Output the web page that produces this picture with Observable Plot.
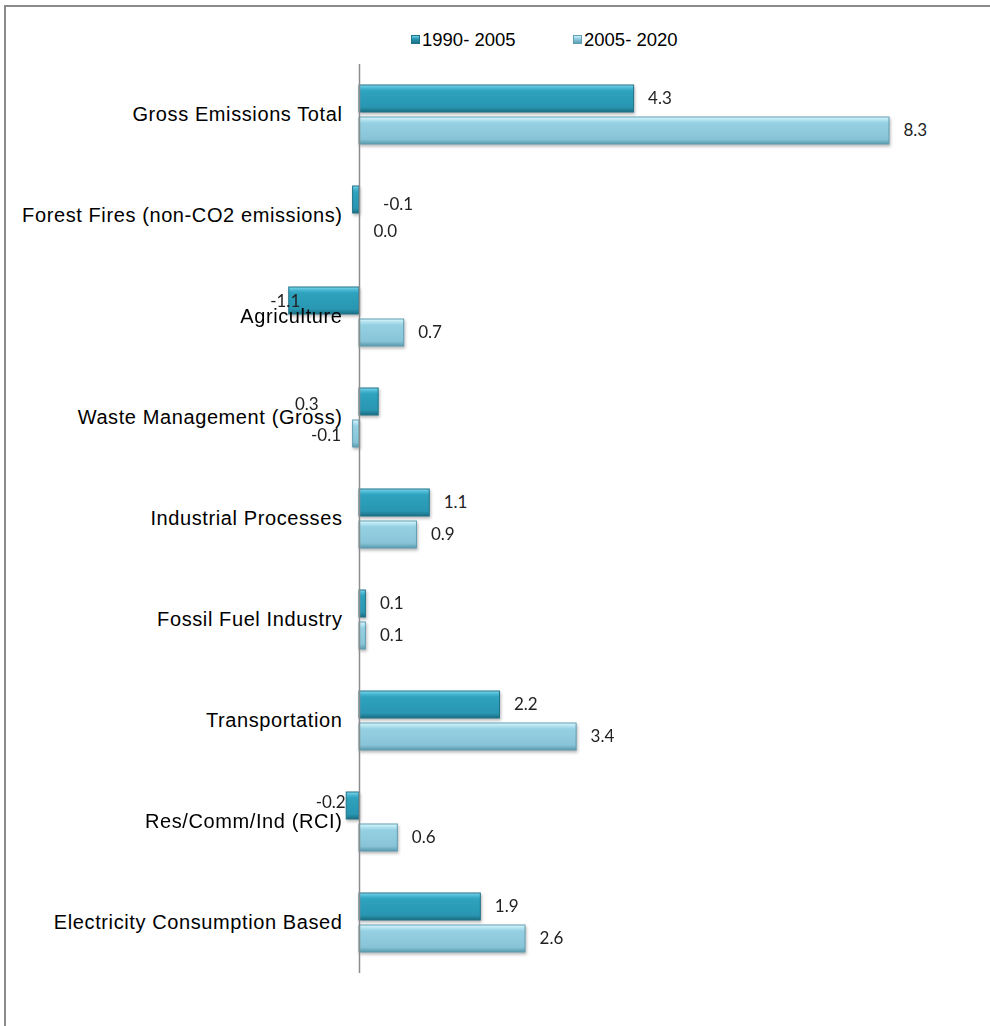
<!DOCTYPE html>
<html>
<head>
<meta charset="utf-8">
<script src="https://cdn.jsdelivr.net/npm/d3@7"></script>
<script src="https://cdn.jsdelivr.net/npm/@observablehq/plot@0.6"></script>
<style>
  body { margin: 0; background: #fff; font-family: "Liberation Sans", Arial, sans-serif; }
  #wrap { position: relative; width: 990px; height: 1026px; overflow: hidden; }
  #frame { position: absolute; left: 4px; top: 5px; width: 1010px; height: 1040px;
           border-top: 2px solid #8a8a8a; border-left: 2px solid #8a8a8a; box-sizing: border-box; }
  #chart { position: absolute; left: 0; top: 0; }
  .key { position: absolute; top: 29px; font-size: 18.5px; color: #000; line-height: 22px; white-space: pre; }
  .swatch { position: absolute; top: 35px; width: 9px; height: 9px; box-sizing: border-box; }
</style>
</head>
<body>
<div id="wrap">
  <div id="frame"></div>
  <div id="chart"></div>
  <div id="legend"></div>
</div>
<script>
// Change in emissions by sector (MMtCO2e)
const categories = [
  "Gross Emissions Total",
  "Forest Fires (non-CO2 emissions)",
  "Agriculture",
  "Waste Management (Gross)",
  "Industrial Processes",
  "Fossil Fuel Industry",
  "Transportation",
  "Res/Comm/Ind (RCI)",
  "Electricity Consumption Based"
];
const periods = ["1990- 2005", "2005- 2020"];
const change1990to2005 = [4.3, -0.1, -1.1, 0.3, 1.1, 0.1, 2.2, -0.2, 1.9];
const change2005to2020 = [8.3, 0.0, 0.7, -0.1, 0.9, 0.1, 3.4, 0.6, 2.6];

const rows = categories.flatMap((category, i) => [
  {category, period: periods[0], value: change1990to2005[i]},
  {category, period: periods[1], value: change2005to2020[i]}
]);

// label placement tweaks for the small negative bars
const nudges = {
  "Forest Fires (non-CO2 emissions)|1990- 2005": {anchor: "start", dx: 30, dy: 5},
  "Agriculture|1990- 2005": {anchor: "end", dx: 11, dy: 1},
  "Waste Management (Gross)|1990- 2005": {anchor: "end", dx: -60, dy: 3},
  "Waste Management (Gross)|2005- 2020": {anchor: "end", dx: -12, dy: 2},
  "Res/Comm/Ind (RCI)|1990- 2005": {anchor: "end", dx: -1, dy: -3}
};
const keyOf = d => d.category + "|" + d.period;
const fmt = d => d.value.toFixed(1);
const valueFont = {fontFamily: "Lato, 'Open Sans', sans-serif", fontSize: 17, fill: "#222"};

const labelMarks = [
  Plot.text(rows.filter(d => !nudges[keyOf(d)]), {
    fy: "category", y: "period", x: "value", text: fmt,
    textAnchor: "start", dx: 14, ...valueFont
  }),
  ...Object.entries(nudges).map(([k, o]) =>
    Plot.text(rows.filter(d => keyOf(d) === k), {
      fy: "category", y: "period", x: "value", text: fmt,
      textAnchor: o.anchor, dx: o.dx, dy: o.dy, ...valueFont
    })
  )
];

const chart = Plot.plot({
  width: 990,
  height: 1026,
  marginTop: 62,
  marginBottom: 52,
  marginLeft: 0,
  marginRight: 0,
  style: {background: "transparent", overflow: "visible"},
  x: {domain: [0, 8.3], range: [359, 889], axis: null},
  fy: {domain: categories, padding: 0, axis: null},
  y: {domain: periods, paddingInner: 0.15, paddingOuter: 0.61, axis: null},
  color: {domain: periods, range: ["url(#barDark)", "url(#barLight)"]},
  marks: [
    Plot.barX(rows, {
      fy: "category", y: "period", x: "value", fill: "period",
      stroke: d => d.period === periods[0] ? "#1f7388" : "#5f9fb3", strokeWidth: 1
    }),
    Plot.ruleX([0], {stroke: "#8c8c8c", strokeWidth: 1.5}),
    Plot.text(categories, {
      fy: d => d, x: 0, text: d => d, dx: -17, textAnchor: "end",
      frameAnchor: "middle", fontFamily: "'Liberation Sans', Arial, sans-serif",
      fontSize: 20, fill: "#000"
    }),
    ...labelMarks
  ]
});

// bevel-like gradients for the two series
const defs = d3.select(chart).insert("defs", ":first-child");
function grad(id, stops) {
  const g = defs.append("linearGradient").attr("id", id)
    .attr("x1", 0).attr("y1", 0).attr("x2", 0).attr("y2", 1);
  stops.forEach(([o, c]) => g.append("stop").attr("offset", o).attr("stop-color", c));
}
grad("barDark", [[0, "#86daee"], [0.1, "#4dbad5"], [0.22, "#2ea2be"], [0.82, "#2996b2"], [1, "#1a6e82"]]);
grad("barLight", [[0, "#e0f7fc"], [0.1, "#b6e5f2"], [0.22, "#95d0e2"], [0.82, "#88c4d8"], [1, "#5b9aae"]]);
d3.select(chart).selectAll("g[aria-label='bar']").style("filter", "drop-shadow(1px 2px 1.5px rgba(0,0,0,0.28))");

// slightly open tracking on the sector names
const names = new Set(categories);
d3.select(chart).selectAll("text").filter(function () { return names.has(this.textContent); })
  .style("letter-spacing", "0.6px");

document.getElementById("chart").appendChild(chart);

// legend
const legend = document.getElementById("legend");
const legendPos = [{sx: 411, tx: 422}, {sx: 573, tx: 584}];
periods.forEach((p, i) => {
  const sw = document.createElement("div");
  sw.className = "swatch";
  sw.style.left = legendPos[i].sx + "px";
  sw.style.background = i === 0
    ? "linear-gradient(#6fd0e6, #2a98b3 40%, #1c7286)"
    : "linear-gradient(#d0f0f8, #90cde0 40%, #5f9fb3)";
  sw.style.border = "1px solid " + (i === 0 ? "#1f7388" : "#5f9fb3");
  legend.appendChild(sw);
  const t = document.createElement("div");
  t.className = "key";
  t.style.left = legendPos[i].tx + "px";
  t.textContent = p;
  legend.appendChild(t);
});
</script>
</body>
</html>
